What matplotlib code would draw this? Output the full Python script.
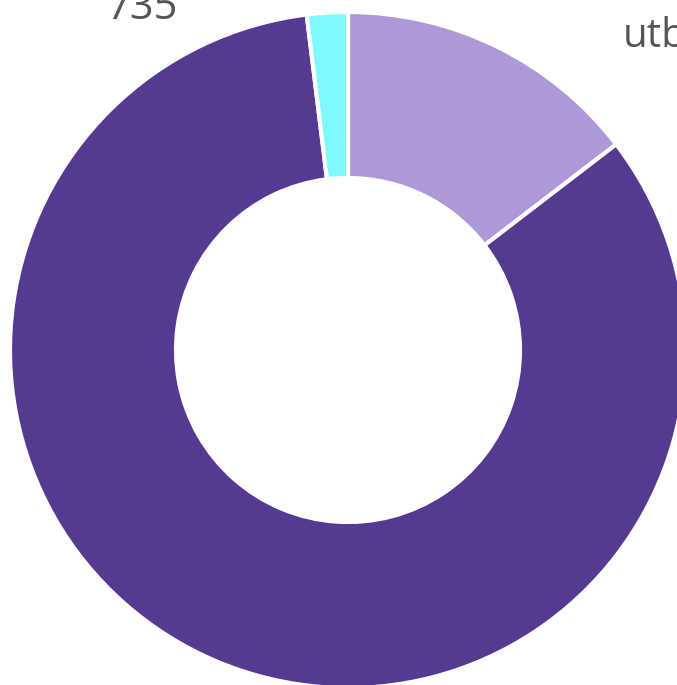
import matplotlib
matplotlib.use("Agg")
import matplotlib.pyplot as plt

categories = ["utb", "other", "735"]
values = [5500, 31470, 735]
colors = ["#AE98D8", "#563A92", "#7DF9FF"]

W, H = 677, 685
fig = plt.figure(figsize=(W / 100, H / 100), dpi=100)
ax = fig.add_axes([0, 0, 1, 1])
ax.axis("off")

cx, cy, R = 348, 350, 338
ax.pie(values, colors=colors, startangle=90, counterclock=False, radius=1,
       wedgeprops=dict(width=(338 - 172) / 338, edgecolor="white", linewidth=3))

def px(x, y):
    return (x - cx) / R, (cy - y) / R

ax.set_xlim((0 - cx) / R, (W - cx) / R)
ax.set_ylim((cy - H) / R, (cy - 0) / R)
ax.set_aspect("equal")

x, y = px(142, 19)
ax.text(x, y, "735", ha="center", va="baseline", fontsize=30, color="#555555", family="Open Sans")
x, y = px(623, 47)
ax.text(x, y, "utbildning", ha="left", va="baseline", fontsize=29, color="#555555", family="Open Sans")

fig.savefig("out.png", dpi=100)
